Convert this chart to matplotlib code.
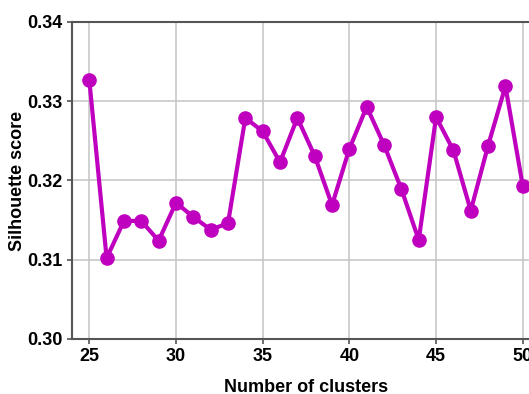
import matplotlib.pyplot as plt

plt.rcParams['font.family'] = ['Liberation Sans', 'DejaVu Sans']
plt.rcParams['font.weight'] = 'bold'

# silhouette score for each number of clusters
n_clusters = list(range(25, 51))
scores = [0.3327, 0.3102, 0.3149, 0.3149, 0.3124, 0.3172, 0.3154, 0.3138,
          0.3146, 0.3279, 0.3262, 0.3223, 0.3279, 0.3231, 0.3169, 0.3240,
          0.3293, 0.3245, 0.3189, 0.3125, 0.3280, 0.3238, 0.3162, 0.3244,
          0.3319, 0.3193]

fig = plt.figure(figsize=(5.29, 3.94), dpi=100)
ax = fig.add_axes([0.136, 0.1396, 0.885, 0.8046])

ax.plot(n_clusters, scores, color='#bf00bf', linewidth=3, marker='o',
        markersize=9.5, zorder=3)

ax.set_xlim(24, 51)
ax.set_ylim(0.30, 0.34)
ax.set_xticks([25, 30, 35, 40, 45, 50])
ax.set_yticks([0.30, 0.31, 0.32, 0.33, 0.34])
ax.set_yticklabels(['0.30', '0.31', '0.32', '0.33', '0.34'])
ax.grid(True, color='#c4c4c4', linewidth=1.1)
ax.set_axisbelow(True)

for s in ax.spines.values():
    s.set_color('#555555')
    s.set_linewidth(1.5)

ax.tick_params(labelsize=13, length=3.5, width=1.2, color='#555555', pad=3)
ax.set_xlabel('Number of clusters', fontsize=13, fontweight='bold', labelpad=10)
ax.set_ylabel('Silhouette score', fontsize=13, fontweight='bold', labelpad=1)

fig.savefig('out.png', dpi=100)
